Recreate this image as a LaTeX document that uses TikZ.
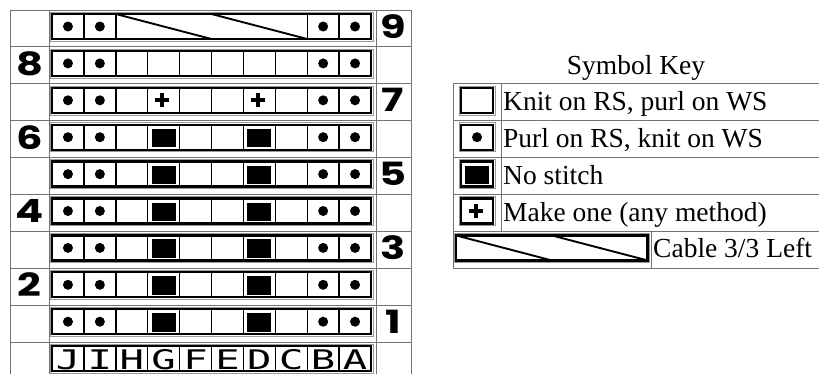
\documentclass[tikz,border=0pt]{standalone}
\usepackage{fontspec}
\setmainfont{Liberation Serif}
\newfontfamily\numfont{Poppins}
\newfontfamily\letfont{DejaVu Sans Mono}
\begin{document}
\begin{tikzpicture}[x=1pt,y=-1pt,
  gridline/.style={draw=black!55, line width=0.9pt},
  stripbox/.style={draw=black, line width=2.3pt},
  stripout/.style={draw=black!40, line width=0.6pt},
  celldiv/.style={draw=black, line width=1.4pt},
  cableline/.style={draw=black, line width=1.9pt},
  plusline/.style={draw=black, line width=4pt},
  numlabel/.style={inner sep=0pt, font=\numfont\bfseries\fontsize{32}{32}\selectfont},
  letlabel/.style={inner sep=0pt, font=\letfont\fontsize{27}{27}\selectfont},
  keytext/.style={inner sep=0pt, font=\fontsize{27.5}{27.5}\selectfont},
  purldot/.style={circle, fill=black, inner sep=0pt, minimum size=10pt},
]
\useasboundingbox (0,0) rectangle (819,373);
\clip (0,0) rectangle (819,373);

% ---- main chart table grid
\draw[gridline] (10,10) rectangle (411,390);
\draw[gridline] (49,10) -- (49,390);
\draw[gridline] (376,10) -- (376,390);
\foreach \i in {1,...,9} \draw[gridline] (10,{10+36.9*\i}) -- (411,{10+36.9*\i});

% ---- cell dividers
\foreach \r in {1,...,9} {
  \pgfmathsetmacro\T{14+36.9*\r}
  \foreach \k in {1,...,9} \draw[celldiv] ({52+31.9*\k},\T) -- ({52+31.9*\k},\T+25);
}
\foreach \k in {1,2,8,9} \draw[celldiv] ({52+31.9*\k},14) -- ({52+31.9*\k},39);

% ---- purl dots
\foreach \r in {0,...,8} {
  \pgfmathsetmacro\T{14+36.9*\r}
  \foreach \k in {1,2,9,10} \node[purldot] (p\r-\k) at ({52+31.9*(\k-0.5)},\T+12.5) {};
}
% ---- no stitch
\foreach \r in {3,...,8} {
  \pgfmathsetmacro\T{14+36.9*\r}
  \foreach \k in {4,7} \fill ({52+31.9*(\k-1)+4},\T+4) rectangle ({52+31.9*\k-4},\T+22.5);
}
% ---- make one
\foreach \k in {4,7} {
  \pgfmathsetmacro\cx{52+31.9*(\k-0.5)-1.5}
  \draw[plusline] (\cx-7,{14+36.9*2+12.5}) -- (\cx+7,{14+36.9*2+12.5});
  \draw[plusline] (\cx,{14+36.9*2+5.5}) -- (\cx,{14+36.9*2+19.5});
}
% ---- cable
\draw[cableline] (115.8,14) -- (211.5,39);
\draw[cableline] (211.5,14) -- (307.2,39);

% ---- strip borders
\foreach \r in {0,...,9} {
  \pgfmathsetmacro\T{14+36.9*\r}
  \draw[stripout] (50,\T-2) rectangle (373,\T+27);
  \draw[stripbox] (52,\T) rectangle (371,\T+25);
}

% ---- row numbers
\node[numlabel] (n9) at (393,26.5) {\scalebox{1.3}[1]{9}};
\node[numlabel] (n8) at (29.5,{26.5+36.9*1}) {\scalebox{1.3}[1]{8}};
\node[numlabel] (n7) at (393,{26.5+36.9*2}) {\scalebox{1.3}[1]{7}};
\node[numlabel] (n6) at (29.5,{26.5+36.9*3}) {\scalebox{1.3}[1]{6}};
\node[numlabel] (n5) at (393,{26.5+36.9*4}) {\scalebox{1.3}[1]{5}};
\node[numlabel] (n4) at (29.5,{26.5+36.9*5}) {\scalebox{1.3}[1]{4}};
\node[numlabel] (n3) at (393,{26.5+36.9*6}) {\scalebox{1.3}[1]{3}};
\node[numlabel] (n2) at (29.5,{26.5+36.9*7}) {\scalebox{1.3}[1]{2}};
\node[numlabel] (n1) at (393,{26.5+36.9*8}) {\scalebox{1.3}[1]{1}};

% ---- column letters
\foreach \L [count=\k] in {J,I,H,G,F,E,D,C,B,A}
  \node[letlabel] (l\L) at ({52+31.9*(\k-0.5)},359.5) {\scalebox{1.5}[1]{\L}};

% ---- symbol key
\node[keytext, anchor=base] (keytitle) at (636,74) {Symbol Key};
\draw[gridline] (453,83.8) rectangle (835,268.3);
\foreach \y in {120.7,157.6,194.5,231.4} \draw[gridline] (453,\y) -- (835,\y);
\draw[gridline] (501,83.8) -- (501,231.4);
\draw[gridline] (651,231.4) -- (651,268.3);

\node[purldot] (kdot) at (477,{87.8+36.9+12.5}) {};
\fill (465,{87.8+36.9*2+4}) rectangle (489,{87.8+36.9*2+22.5});
\draw[plusline] (468.5,{87.8+36.9*3+12.5}) -- (482.5,{87.8+36.9*3+12.5});
\draw[plusline] (475.5,{87.8+36.9*3+5.5}) -- (475.5,{87.8+36.9*3+19.5});
\foreach \j in {0,...,3} {
  \pgfmathsetmacro\T{87.8+36.9*\j}
  \draw[stripout] (459,\T-2) rectangle (495,\T+27);
  \draw[stripbox] (461,\T) rectangle (493,\T+25);
}
\draw[cableline] (456,235.4) -- (551.7,260.4);
\draw[cableline] (551.7,235.4) -- (647.4,260.4);
\draw[stripout] (454,233.4) rectangle (649.4,262.4);
\draw[stripbox] (456,235.4) rectangle (647.4,260.4);

\node[keytext, anchor=base west] (k1) at (503,110.3) {Knit on RS, purl on WS};
\node[keytext, anchor=base west] (k2) at (503,147.2) {Purl on RS, knit on WS};
\node[keytext, anchor=base west] (k3) at (503,184.1) {No stitch};
\node[keytext, anchor=base west] (k4) at (503,221.0) {Make one (any method)};
\node[keytext, anchor=base west] (k5) at (653,257.9) {Cable 3/3 Left};
\end{tikzpicture}
\end{document}
